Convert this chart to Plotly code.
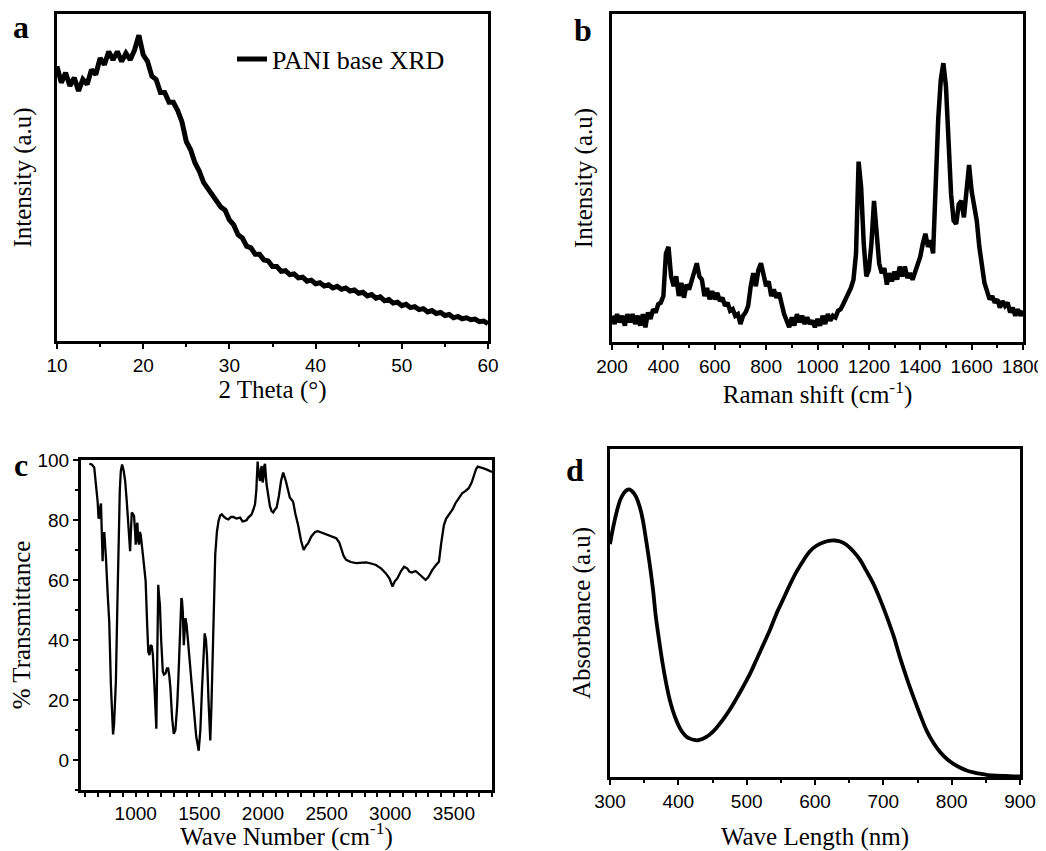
import plotly.graph_objects as go

# ---------------- data ----------------
# (a) XRD
xrd_theta = [10.0, 10.5, 11.0, 11.5, 12.0, 12.5, 13.0, 13.5, 14.0, 14.5,
             15.0, 15.5, 16.0, 16.5, 17.0, 17.5, 18.0, 18.5, 19.0, 19.5,
             20.0, 20.5, 21.0, 21.5, 22.0, 22.5, 23.0, 23.5, 24.0, 24.5,
             25.0, 25.5, 26.0, 26.5, 27.0, 27.5, 28.0, 28.5, 29.0, 29.5,
             30.0, 30.5, 31.0, 31.5, 32.0, 32.5, 33.0, 33.5, 34.0, 34.5,
             35.0, 35.5, 36.0, 36.5, 37.0, 37.5, 38.0, 38.5, 39.0, 39.5,
             40.0, 40.5, 41.0, 41.5, 42.0, 42.5, 43.0, 43.5, 44.0, 44.5,
             45.0, 45.5, 46.0, 46.5, 47.0, 47.5, 48.0, 48.5, 49.0, 49.5,
             50.0, 50.5, 51.0, 51.5, 52.0, 52.5, 53.0, 53.5, 54.0, 54.5,
             55.0, 55.5, 56.0, 56.5, 57.0, 57.5, 58.0, 58.5, 59.0, 59.5,
             60.0]
xrd_intensity = [84, 79, 82, 78, 80.5, 76.5, 80, 78.5, 83, 81.5,
                 86.5, 84.5, 88.5, 86, 88.5, 85.5, 88, 86, 89, 93.5,
                 87.5, 85.5, 81, 80, 76, 76, 73, 73, 70.5, 67,
                 61, 58.5, 54.5, 52, 48.5, 46.5, 44.5, 43, 41, 40,
                 37, 35.5, 32.5, 31.5, 29, 28.5, 26.5, 26.5, 24.8, 24.5,
                 22.8, 22.8, 21.3, 21.5, 20.3, 20.5, 19.3, 19.5, 18.3, 18.6,
                 17.5, 17.8, 16.8, 17.2, 16.2, 16.7, 15.8, 16.2, 15.3, 15.6,
                 14.6, 14.9, 13.8, 14.2, 13.1, 13.5, 12.3, 12.7, 11.6, 11.9,
                 10.8, 11.2, 10.2, 10.5, 9.6, 9.9, 8.9, 9.3, 8.4, 8.7,
                 7.8, 8.1, 7.1, 7.5, 6.8, 7.1, 6.5, 6.7, 5.9, 6.1,
                 5.3]

# (b) Raman
raman_shift = [200, 210, 220, 230, 240, 250, 260, 270, 280, 290,
               300, 310, 320, 330, 340, 350, 360, 370, 380, 390,
               400, 410, 420, 430, 440, 450, 460, 470, 480, 490,
               500, 510, 520, 530, 540, 550, 560, 570, 580, 590,
               600, 610, 620, 630, 640, 650, 660, 670, 680, 690,
               700, 710, 720, 730, 740, 750, 760, 770, 780, 790,
               800, 810, 820, 830, 840, 850, 860, 870, 880, 890,
               900, 910, 920, 930, 940, 950, 960, 970, 980, 990,
               1000, 1010, 1020, 1030, 1040, 1050, 1060, 1070, 1080, 1090,
               1100, 1110, 1120, 1130, 1140, 1150, 1160, 1170, 1180, 1190,
               1200, 1210, 1220, 1230, 1240, 1250, 1260, 1270, 1280, 1290,
               1300, 1310, 1320, 1330, 1340, 1350, 1360, 1370, 1380, 1390,
               1400, 1410, 1420, 1430, 1440, 1450, 1460, 1470, 1480, 1490,
               1500, 1510, 1520, 1530, 1540, 1550, 1560, 1570, 1580, 1590,
               1600, 1610, 1620, 1630, 1640, 1650, 1660, 1670, 1680, 1690,
               1700, 1710, 1720, 1730, 1740, 1750, 1760, 1770, 1780, 1790,
               1800]
raman_intensity = [8, 5.5, 8.5, 6, 8, 5, 8.5, 6, 8.5, 5.5,
                   8, 5, 8.5, 4.5, 9, 7, 10, 9, 11.5, 12,
                   14, 27, 29, 20, 17, 20, 14, 18, 13.5, 17.5,
                   16, 19, 22, 24, 20, 19, 14, 16.5, 13, 15.5,
                   13, 15, 12.5, 13.5, 11, 12, 9.5, 10, 8, 8.5,
                   5.5, 8, 9, 11, 17, 21, 17, 22, 24, 21,
                   17, 18.5, 14, 16, 13.5, 15, 11, 8.5, 6.5, 4.5,
                   7.5, 5, 8.5, 6, 8, 5.5, 7.5, 5.5, 6.5, 4.5,
                   7, 5, 8, 5.5, 8.5, 6.5, 8, 7.5, 9.5, 10,
                   11.5, 13, 15, 16.5, 19, 27, 55, 47, 30, 20,
                   22, 30, 43, 33, 24, 21, 22.5, 17.5, 21, 18.5,
                   21.5, 19, 23, 20, 23, 19.5, 21, 19, 21.5, 23,
                   26, 30, 33, 29, 31, 27, 52, 68, 80, 85,
                   78, 62, 45, 37, 36, 42, 43, 38, 47, 54,
                   46, 41, 37, 29, 22, 18, 15.5, 13, 14, 12,
                   13, 10.5, 12.5, 11, 12, 9, 10.5, 8, 10, 8,
                   9.5]

# (c) FTIR
ftir_wavenumber = [635, 655, 674, 690, 701, 708, 714, 720, 727, 732, 737, 740, 746, 750, 753, 760, 766,
                   780, 792, 805, 815, 822, 830, 844, 855, 865, 875, 883, 893, 905, 917, 930, 943,
                   950, 956, 962, 969, 978, 987, 995, 1000, 1006, 1013, 1020, 1026, 1032, 1039,
                   1060, 1078, 1090, 1099, 1108, 1117, 1126, 1135, 1150, 1162, 1168, 1177, 1183,
                   1190, 1200, 1213, 1222, 1234, 1245, 1255, 1264, 1273, 1286, 1299, 1312, 1326,
                   1335, 1344, 1352, 1359, 1364, 1370, 1378, 1384, 1391, 1400, 1417, 1435, 1456,
                   1475, 1495, 1508, 1521, 1532, 1542, 1552, 1560, 1572, 1586, 1595, 1604, 1615,
                   1625, 1638, 1651, 1664, 1677, 1690, 1710, 1729, 1748, 1768, 1790, 1820, 1840,
                   1859, 1872, 1885, 1898, 1911, 1925, 1938, 1948, 1954, 1958, 1965, 1972, 1977,
                   1984, 1990, 1997, 2004, 2010, 2016, 2028, 2042, 2055, 2068, 2081, 2094, 2107,
                   2125, 2142, 2159, 2180, 2211, 2237, 2255, 2276, 2300, 2320, 2340, 2354, 2380,
                   2410, 2432, 2460, 2498, 2540, 2576, 2600, 2615, 2634, 2654, 2690, 2732, 2770,
                   2810, 2850, 2888, 2930, 2966, 2995, 3010, 3018, 3035, 3057, 3085, 3109, 3135,
                   3150, 3170, 3200, 3240, 3278, 3300, 3330, 3360, 3383, 3400, 3422, 3440, 3461,
                   3490, 3513, 3540, 3565, 3590, 3617, 3640, 3656, 3675, 3688, 3710, 3734, 3760,
                   3786, 3800]
ftir_transmittance = [98.7, 98.5, 97.5, 91, 86, 80.5, 80.8, 84, 85.5, 78, 70, 66.3, 76, 72, 76, 69, 67.4,
                      55, 46, 25, 12, 8.5, 12, 26, 50, 74, 90, 96.4, 98.5, 96.5, 93, 86, 77.4,
                      72, 69.6, 76, 82.5, 82, 81.3, 76, 71.8, 78, 79.1, 73, 71.8, 76, 75.2,
                      67, 59.6, 45, 36.1, 35, 38.3, 38, 35, 22, 10.4, 30, 58.4, 55,
                      51.7, 40, 29.4, 28.5, 28.8, 30.5, 30.5, 28, 23.8, 14, 8.7, 10, 18.2,
                      27, 36.1, 47, 54, 53, 49.5, 38.3, 44, 47.3, 45, 37.2, 27, 17.1,
                      8, 3.1, 10, 23.8, 36, 42.2, 40, 35, 20, 6.5, 18, 35, 55,
                      68.5, 76, 79.7, 81.5, 81.9, 81.2, 80.5, 80.2, 81, 81, 80.5, 80.8, 79.5,
                      79.7, 80, 80.8, 81.5, 81.9, 83.5, 85.3, 90, 97, 99.5, 96, 93, 93,
                      97, 98, 92.5, 94, 98, 98.7, 92, 87.5, 84.5, 83, 82.5, 83.5, 84.1,
                      88, 93, 95.8, 93, 87.5, 86.1, 82, 78.3, 73, 70, 71.5, 72.2, 74.5,
                      76, 76.3, 75.8, 75.2, 74.5, 73.9, 72.5, 70.6, 68, 66.7, 66, 65.6, 65.7,
                      65.9, 65.5, 65, 63.8, 62.2, 60.5, 58.5, 57.8, 59.5, 60.6, 63, 64.4, 63.8,
                      62.8, 62.5, 63, 61.5, 60, 61, 63.3, 65, 66.1, 72, 78.3, 80.5, 81.7,
                      83.5, 85.6, 87.5, 88.9, 89.6, 90.6, 92.5, 94.4, 97, 97.8, 97.6, 97.2, 96.8,
                      96.3, 96]

# (d) UV-vis
uv_wavelength = [300, 305, 310, 315, 320, 325, 328, 332, 338, 344, 348, 353, 358, 363, 367,
                 372, 377, 382, 387, 392, 397, 402, 407, 412, 417, 423, 428, 435, 441, 448,
                 455, 465, 475, 485, 495, 505, 514, 524, 534, 543, 553, 563, 573, 583, 592,
                 602, 612, 620, 629, 637, 646, 656, 666, 675, 685, 695, 705, 715, 724, 734,
                 744, 754, 763, 773, 783, 793, 802, 812, 822, 832, 841, 853, 866, 880, 895, 900]
uv_absorbance = [71, 76.5, 81, 84.5, 86.5, 87.5, 87.7, 87.2, 85.5, 82, 78.4, 72, 65, 57, 49,
                 41.5, 34.6, 28.8, 23.9, 20.2, 17.3, 15, 13.4, 12.3, 11.7, 11.3, 11.2, 11.6, 12.2, 13.3,
                 14.8, 17.4, 20.4, 23.9, 27.6, 31.5, 35.6, 40.2, 44.8, 49.5, 54, 58.5, 62.6, 66, 68.7,
                 70.5, 71.5, 72, 72.1, 71.8, 70.8, 68.8, 66.2, 62.9, 59.1, 54.3, 48.9, 43, 36.7, 30.3,
                 24.4, 18.9, 14.3, 10.5, 7.6, 5.5, 4.1, 2.9, 2, 1.4, 1, 0.6, 0.4, 0.3, 0.2, 0.2]

panel_letters = ["a", "b", "c", "d"]

# ---------------- layout helpers ----------------
# the page body has an 8px margin, so the figure is drawn 8px in from the window corner
OFF = 8
W, H = 1046 - OFF, 851 - OFF
SERIF = "Liberation Serif, Times New Roman, serif"
SANS = "Liberation Sans, Arial, sans-serif"


def xdom(l, r):
    return [(l - OFF) / W, (r - OFF) / W]


def ydom(top, bottom):
    return [1 - (bottom - OFF) / H, 1 - (top - OFF) / H]


def px(x):
    return (x - OFF) / W


def py(y):
    return 1 - (y - OFF) / H


def axis(**kw):
    base = dict(showline=True, linewidth=3, linecolor="black", mirror=True,
                showgrid=False, zeroline=False, ticks="outside", tickwidth=2,
                ticklen=5, tickcolor="black", automargin=False,
                tickfont=dict(family=SANS, size=19, color="black"),
                title_font=dict(family=SERIF, size=25, color="black"))
    base.update(kw)
    return base


def minor(d):
    return dict(ticks="outside", ticklen=3, tickwidth=2, tickcolor="black", dtick=d)


fig = go.Figure()
fig.add_trace(go.Scatter(x=xrd_theta, y=xrd_intensity, mode="lines", name="PANI base XRD",
                         line=dict(color="black", width=5), xaxis="x", yaxis="y", showlegend=True))
fig.add_trace(go.Scatter(x=raman_shift, y=raman_intensity, mode="lines", name="Raman",
                         line=dict(color="black", width=4.5), xaxis="x2", yaxis="y2", showlegend=False))
fig.add_trace(go.Scatter(x=ftir_wavenumber, y=ftir_transmittance, mode="lines", name="FTIR",
                         line=dict(color="black", width=2.3), xaxis="x3", yaxis="y3", showlegend=False))
fig.add_trace(go.Scatter(x=uv_wavelength, y=uv_absorbance, mode="lines", name="UV-vis",
                         line=dict(color="black", width=3.8, shape="spline"), xaxis="x4", yaxis="y4",
                         showlegend=False))

fig.update_layout(
    template="none",
    width=W, height=H, autosize=False,
    margin=dict(l=0, r=0, t=0, b=0, pad=0),
    paper_bgcolor="white", plot_bgcolor="white",
    xaxis=axis(domain=xdom(57, 488), anchor="y", range=[10, 60], dtick=10, tick0=0,
               minor=minor(5), title=dict(text="2 Theta (°)", standoff=3)),
    yaxis=axis(domain=ydom(14, 341), anchor="x", range=[0, 100], ticks="",
               showticklabels=False, title=dict(text="Intensity (a.u)", standoff=16)),
    xaxis2=axis(domain=xdom(612, 1023), anchor="y2", range=[200, 1800], dtick=200, tick0=0,
                minor=minor(100), title=dict(text="Raman shift (cm<sup>-1</sup>)", standoff=1)),
    yaxis2=axis(domain=ydom(14, 342), anchor="x2", range=[0, 100], ticks="",
                showticklabels=False, title=dict(text="Intensity (a.u)", standoff=10)),
    xaxis3=axis(domain=xdom(81, 492), anchor="y3", range=[570, 3800], dtick=500, tick0=0,
                ticklen=4, minor=dict(ticks="outside", ticklen=4, tickwidth=2, tickcolor="black", dtick=100),
                title=dict(text="Wave Number (cm<sup>-1</sup>)", standoff=13)),
    yaxis3=axis(domain=ydom(460, 790), anchor="x3", range=[-10, 100], dtick=20, tick0=0,
                minor=minor(10), title=dict(text="% Transmittance", standoff=0)),
    xaxis4=axis(domain=xdom(610, 1020), anchor="y4", range=[300, 900], dtick=100, tick0=0,
                minor=minor(50), title=dict(text="Wave Length (nm)", standoff=19)),
    yaxis4=axis(domain=ydom(449, 777), anchor="x4", range=[0, 100], ticks="",
                showticklabels=False, title=dict(text="Absorbance (a.u)", standoff=10)),
    legend=dict(x=px(232), y=py(59), xanchor="left", yanchor="middle",
                bgcolor="rgba(0,0,0,0)", borderwidth=0,
                font=dict(family=SERIF, size=26, color="black")),
)

letter_pos = [(11, 27), (572, 30), (12, 465), (564, 470)]
for letter, (lx, ly) in zip(panel_letters, letter_pos):
    fig.add_annotation(text="<b>%s</b>" % letter, x=px(lx), y=py(ly), xref="paper", yref="paper",
                       xanchor="left", yanchor="middle", showarrow=False,
                       font=dict(family=SERIF, size=32, color="black"))

fig.write_html("out.html")
